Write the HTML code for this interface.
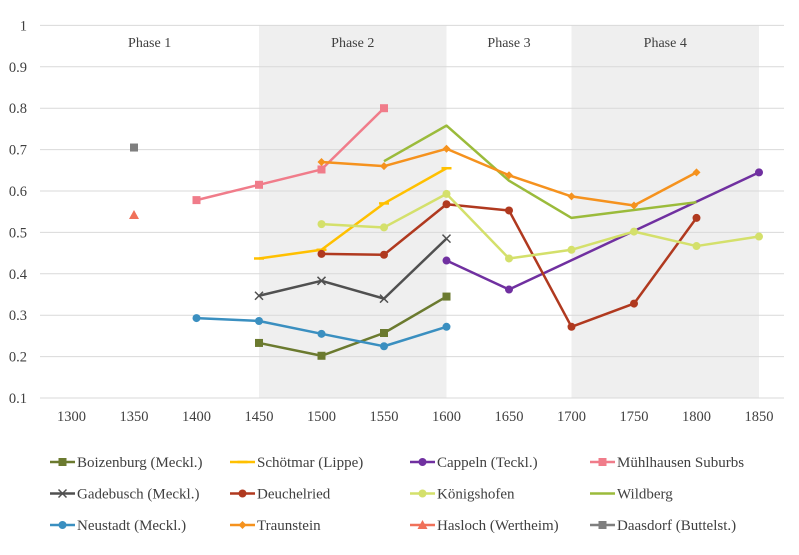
<!DOCTYPE html>
<html><head><meta charset="utf-8"><style>
body{margin:0;background:#fff;}
svg{font-family:"Liberation Serif",serif;}
</style></head><body>
<svg id="c" width="799" height="550"></svg>
<script>
const years=[1300,1350,1400,1450,1500,1550,1600,1650,1700,1750,1800,1850];
const yTicks=[0.1,0.2,0.3,0.4,0.5,0.6,0.7,0.8,0.9,1];
const phases=["Phase 1","Phase 2","Phase 3","Phase 4"];
const phaseStart=[1275,1450,1600,1700];
const phaseEnd=[1450,1600,1700,1850];
const boizenburgX=[1450,1500,1550,1600];const boizenburgY=[0.233,0.202,0.257,0.345];
const schoetmarX=[1450,1500,1550,1600];const schoetmarY=[0.437,0.458,0.57,0.655];
const cappelnX=[1600,1650,1850];const cappelnY=[0.432,0.362,0.645];
const muehlX=[1400,1450,1500,1550];const muehlY=[0.578,0.615,0.652,0.8];
const gadebuschX=[1450,1500,1550,1600];const gadebuschY=[0.347,0.383,0.34,0.485];
const deuchelX=[1500,1550,1600,1650,1700,1750,1800];const deuchelY=[0.448,0.446,0.568,0.553,0.272,0.328,0.535];
const koenigX=[1500,1550,1600,1650,1700,1750,1800,1850];const koenigY=[0.52,0.512,0.593,0.437,0.458,0.502,0.467,0.49];
const wildbergX=[1550,1600,1650,1700,1800];const wildbergY=[0.672,0.758,0.625,0.535,0.573];
const neustadtX=[1400,1450,1500,1550,1600];const neustadtY=[0.293,0.286,0.255,0.225,0.272];
const traunX=[1500,1550,1600,1650,1700,1750,1800];const traunY=[0.67,0.66,0.702,0.638,0.587,0.565,0.645];
const haslochX=[1350];const haslochY=[0.542];
const daasX=[1350];const daasY=[0.705];
const series=[
["Boizenburg (Meckl.)","#6b7a2f","square",boizenburgX,boizenburgY],
["Schötmar (Lippe)","#ffc000","dash",schoetmarX,schoetmarY],
["Cappeln (Teckl.)","#7030a0","circle",cappelnX,cappelnY],
["Mühlhausen Suburbs","#f07c8a","square",muehlX,muehlY],
["Gadebusch (Meckl.)","#505050","x",gadebuschX,gadebuschY],
["Deuchelried","#b0391f","circle",deuchelX,deuchelY],
["Königshofen","#d4e06b","circle",koenigX,koenigY],
["Wildberg","#9bbb3b","none",wildbergX,wildbergY],
["Neustadt (Meckl.)","#3a8fc0","circle",neustadtX,neustadtY],
["Traunstein","#f5921e","diamond",traunX,traunY],
["Hasloch (Wertheim)","#f0715a","triangle",haslochX,haslochY],
["Daasdorf (Buttelst.)","#7f7f7f","square",daasX,daasY]];
const NS="http://www.w3.org/2000/svg";const svg=document.getElementById('c');
const X=v=>259+(v-1450)*1.25;
const Y=v=>398-(v-0.1)*414;
function mk(t,a,p){const e=document.createElementNS(NS,t);for(const k in a)e.setAttribute(k,a[k]);(p||svg).appendChild(e);return e;}
phases.forEach((p,i)=>{if(i%2==1){const r=mk('rect',{x:X(phaseStart[i]),y:Y(1),width:X(phaseEnd[i])-X(phaseStart[i]),height:Y(0.1)-Y(1),fill:'#efefef'});

}
const t=mk('text',{x:(X(phaseStart[i])+X(phaseEnd[i]))/2,y:47,'text-anchor':'middle','font-size':14,fill:'#404040'});t.textContent=p;

});
yTicks.forEach(v=>{const l=mk('line',{x1:40,x2:784,y1:Y(v),y2:Y(v),stroke:'#d9d9d9','stroke-width':1});


const t=mk('text',{x:27,y:Y(v)+5,'text-anchor':'end','font-size':14.5,fill:'#404040'});t.textContent=v;

});
years.forEach(v=>{const t=mk('text',{x:X(v),y:421,'text-anchor':'middle','font-size':14.5,fill:'#404040'});t.textContent=v;

});
function marker(type,x,y,c,g){
if(type=='square')mk('rect',{x:x-4,y:y-4,width:8,height:8,fill:c},g);
else if(type=='circle')mk('circle',{cx:x,cy:y,r:4,fill:c},g);
else if(type=='diamond')mk('path',{d:`M${x-4} ${y}L${x} ${y-4}L${x+4} ${y}L${x} ${y+4}Z`,fill:c},g);
else if(type=='triangle')mk('path',{d:`M${x-5} ${y+4}L${x} ${y-5}L${x+5} ${y+4}Z`,fill:c},g);
else if(type=='x')mk('path',{d:`M${x-4} ${y-4}L${x+4} ${y+4}M${x-4} ${y+4}L${x+4} ${y-4}`,stroke:c,'stroke-width':1.5},g);
else if(type=='dash')mk('line',{x1:x-5,x2:x+5,y1:y,y2:y,stroke:c,'stroke-width':2.5},g);}
series.forEach((s,i)=>{const [name,c,m,xs,ys]=s;
const g=mk('g',{});


if(xs.length>1)mk('polyline',{points:xs.map((x,j)=>X(x)+','+Y(ys[j])).join(' '),fill:'none',stroke:c,'stroke-width':2.5,'stroke-linejoin':'round'},g);
xs.forEach((x,j)=>marker(m,X(x),Y(ys[j]),c,g));
const col=i%4,row=Math.floor(i/4);const lx=[50,230,410,590][col],ly=462+row*31.5;
const lg=mk('g',{});


mk('line',{x1:lx,x2:lx+25,y1:ly,y2:ly,stroke:c,'stroke-width':2.5},lg);
marker(m,lx+12.5,ly,c,lg);
const t=mk('text',{x:lx+27,y:ly+5,'font-size':15,fill:'#404040'},lg);t.textContent=name;});
</script>
</body></html>
